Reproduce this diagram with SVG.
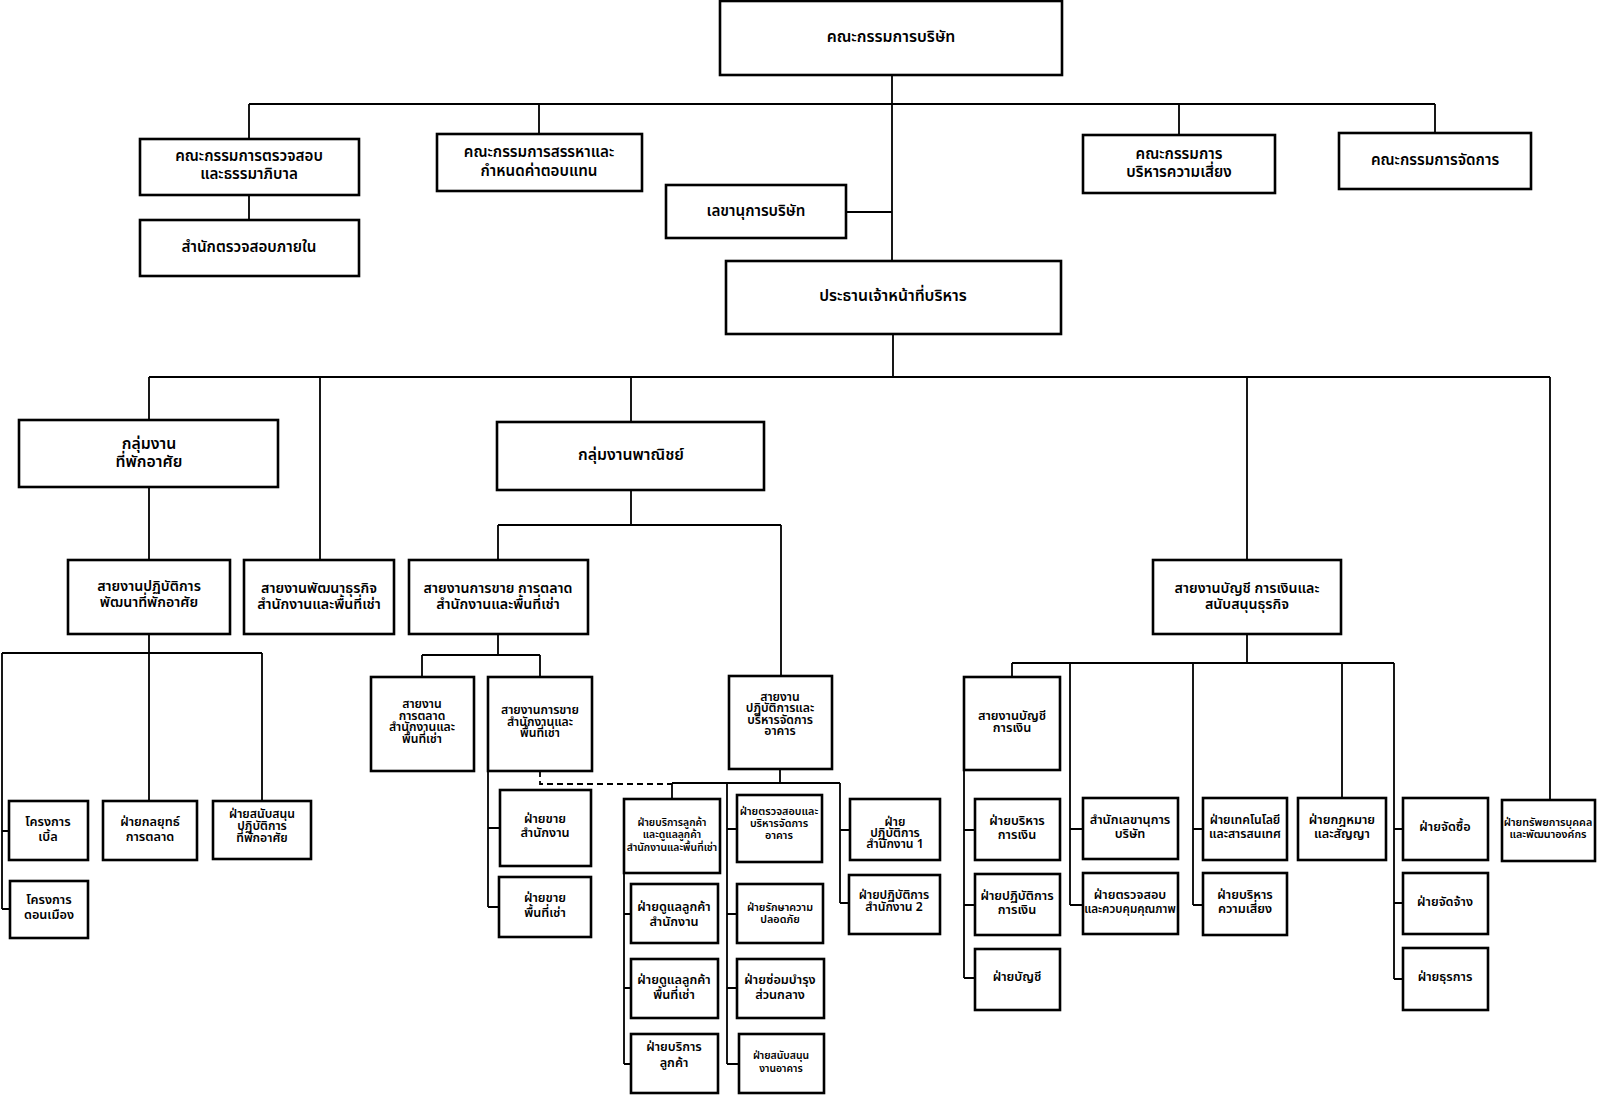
<svg xmlns="http://www.w3.org/2000/svg" width="1600" height="1096" viewBox="0 0 1600 1096">
<style>
.b{fill:#fff;stroke:#000;stroke-width:2.6}
.c{fill:none;stroke:#000;stroke-width:1.8}
.d{fill:none;stroke:#000;stroke-width:1.8;stroke-dasharray:6 4}
text{font-family:"Noto Sans Thai","Noto Sans","Liberation Sans",sans-serif;font-weight:600;text-anchor:middle;fill:#000}
.t16{font-size:15.8px}
.t15{font-size:15.2px}
.t14{font-size:14.2px}
.t13{font-size:12.7px}
.t12{font-size:12.2px}
.t11{font-size:11.6px}
.t10{font-size:10.4px}
.t10b{font-size:10.8px}
</style>
<rect width="1600" height="1096" fill="#fff"/>
<g id="connectors">
<path class="c" d="M892 75V261M249 104H1435M249 104V139M539 104V134M1179 104V135M1435 104V133M249 195V220M846 212H892"/>
<path class="c" d="M893 334V377M149 377H1550M149 377V420M320 377V560M631 377V422M1247 377V560M1550 377V800"/>
<path class="c" d="M149 487V560M149 634V801M2 653H262M262 653V801M2 653V909M2 831H9M2 909H10"/>
<path class="c" d="M631 490V525M498 525H781M498 525V560M781 525V676M498 634V655M422 655H540M422 655V677M540 655V677"/>
<path class="c" d="M488 771V907M488 828H500M488 907H499"/>
<path class="d" d="M540 771V784H672"/>
<path class="c" d="M780 769V783M672 783H840M672 783V799M727 783V1064M727 829H737M727 914H737M727 988H737M727 1064H739M624 873V1064M624 914H631M624 988H631M624 1064H631M840 783V903M840 830H850M840 903H849"/>
<path class="c" d="M1247 634V663M1012 663H1394M1012 663V677M964 770V978M964 830H975M964 905H975M964 978H975M1070 663V905M1070 829H1083M1070 905H1083M1193 663V905M1193 829H1203M1193 905H1203M1342 663V798M1394 663V979M1394 829H1403M1394 903H1403M1394 979H1403"/>
</g>
<g id="board"><rect class="b" x="720" y="1" width="342" height="74"/><text class="t16" x="891" y="42">คณะกรรมการบริษัท</text></g>
<g id="audit-committee"><rect class="b" x="140" y="139" width="219" height="56"/><text class="t15" x="249" y="161">คณะกรรมการตรวจสอบ</text><text class="t15" x="249" y="179">และธรรมาภิบาล</text></g>
<g id="internal-audit"><rect class="b" x="140" y="220" width="219" height="56"/><text class="t15" x="249" y="252">สำนักตรวจสอบภายใน</text></g>
<g id="nomination"><rect class="b" x="437" y="134" width="205" height="57"/><text class="t15" x="539" y="157">คณะกรรมการสรรหาและ</text><text class="t15" x="539" y="176">กำหนดค่าตอบแทน</text></g>
<g id="secretary"><rect class="b" x="666" y="185" width="180" height="53"/><text class="t15" x="756" y="216">เลขานุการบริษัท</text></g>
<g id="risk-committee"><rect class="b" x="1083" y="135" width="192" height="58"/><text class="t15" x="1179" y="159">คณะกรรมการ</text><text class="t15" x="1179" y="177">บริหารความเสี่ยง</text></g>
<g id="management-committee"><rect class="b" x="1339" y="133" width="192" height="56"/><text class="t15" x="1435" y="165">คณะกรรมการจัดการ</text></g>
<g id="ceo"><rect class="b" x="726" y="261" width="335" height="73"/><text class="t16" x="893" y="301">ประธานเจ้าหน้าที่บริหาร</text></g>
<g id="residential-group"><rect class="b" x="19" y="420" width="259" height="67"/><text class="t16" x="149" y="449">กลุ่มงาน</text><text class="t16" x="149" y="467">ที่พักอาศัย</text></g>
<g id="commercial-group"><rect class="b" x="497" y="422" width="267" height="68"/><text class="t16" x="631" y="460">กลุ่มงานพาณิชย์</text></g>
<g id="residential-ops"><rect class="b" x="68" y="560" width="162" height="74"/><text class="t14" x="149" y="591">สายงานปฏิบัติการ</text><text class="t14" x="149" y="607">พัฒนาที่พักอาศัย</text></g>
<g id="bizdev"><rect class="b" x="244" y="560" width="150" height="74"/><text class="t14" x="319" y="593">สายงานพัฒนาธุรกิจ</text><text class="t14" x="319" y="609">สำนักงานและพื้นที่เช่า</text></g>
<g id="sales-marketing"><rect class="b" x="409" y="560" width="179" height="74"/><text class="t14" x="498" y="593">สายงานการขาย การตลาด</text><text class="t14" x="498" y="609">สำนักงานและพื้นที่เช่า</text></g>
<g id="accounting-line"><rect class="b" x="1153" y="560" width="188" height="74"/><text class="t14" x="1247" y="593">สายงานบัญชี การเงินและ</text><text class="t14" x="1247" y="609">สนับสนุนธุรกิจ</text></g>
<g id="project-bell"><rect class="b" x="9" y="801" width="79" height="59"/><text class="t13" x="48" y="826">โครงการ</text><text class="t13" x="48" y="841">เบิ้ล</text></g>
<g id="mkt-strategy"><rect class="b" x="103" y="801" width="94" height="59"/><text class="t13" x="150" y="826">ฝ่ายกลยุทธ์</text><text class="t13" x="150" y="841">การตลาด</text></g>
<g id="res-ops-support"><rect class="b" x="213" y="801" width="98" height="58"/><text class="t12" x="262" y="818">ฝ่ายสนับสนุน</text><text class="t12" x="262" y="830">ปฏิบัติการ</text><text class="t12" x="262" y="842">ที่พักอาศัย</text></g>
<g id="project-donmueang"><rect class="b" x="10" y="881" width="78" height="57"/><text class="t13" x="49" y="904">โครงการ</text><text class="t13" x="49" y="919">ดอนเมือง</text></g>
<g id="marketing-line"><rect class="b" x="371" y="677" width="103" height="94"/><text class="t12" x="422" y="708">สายงาน</text><text class="t12" x="422" y="720">การตลาด</text><text class="t12" x="422" y="731">สำนักงานและ</text><text class="t12" x="422" y="743">พื้นที่เช่า</text></g>
<g id="sales-line"><rect class="b" x="488" y="677" width="104" height="94"/><text class="t12" x="540" y="714">สายงานการขาย</text><text class="t12" x="540" y="726">สำนักงานและ</text><text class="t12" x="540" y="737">พื้นที่เช่า</text></g>
<g id="building-ops-line"><rect class="b" x="729" y="676" width="103" height="93"/><text class="t12" x="780" y="701">สายงาน</text><text class="t12" x="780" y="712">ปฏิบัติการและ</text><text class="t12" x="780" y="724">บริหารจัดการ</text><text class="t12" x="780" y="735">อาคาร</text></g>
<g id="office-sales"><rect class="b" x="500" y="790" width="91" height="76"/><text class="t13" x="545" y="823">ฝ่ายขาย</text><text class="t13" x="545" y="837">สำนักงาน</text></g>
<g id="rental-sales"><rect class="b" x="499" y="877" width="92" height="60"/><text class="t13" x="545" y="902">ฝ่ายขาย</text><text class="t13" x="545" y="917">พื้นที่เช่า</text></g>
<g id="customer-service-care"><rect class="b" x="624" y="799" width="96" height="74"/><text class="t10" x="672" y="826">ฝ่ายบริการลูกค้า</text><text class="t10" x="672" y="838">และดูแลลูกค้า</text><text class="t10" x="672" y="851">สำนักงานและพื้นที่เช่า</text></g>
<g id="office-care"><rect class="b" x="631" y="884" width="87" height="59"/><text class="t13" x="674" y="911">ฝ่ายดูแลลูกค้า</text><text class="t13" x="674" y="926">สำนักงาน</text></g>
<g id="rental-care"><rect class="b" x="631" y="959" width="87" height="59"/><text class="t13" x="674" y="984">ฝ่ายดูแลลูกค้า</text><text class="t13" x="674" y="999">พื้นที่เช่า</text></g>
<g id="customer-service"><rect class="b" x="631" y="1034" width="87" height="59"/><text class="t13" x="674" y="1051">ฝ่ายบริการ</text><text class="t13" x="674" y="1067">ลูกค้า</text></g>
<g id="building-inspection"><rect class="b" x="737" y="795" width="85" height="67"/><text class="t10b" x="779" y="815">ฝ่ายตรวจสอบและ</text><text class="t10b" x="779" y="827">บริหารจัดการ</text><text class="t10b" x="779" y="839">อาคาร</text></g>
<g id="security"><rect class="b" x="737" y="884" width="86" height="59"/><text class="t10b" x="780" y="911">ฝ่ายรักษาความ</text><text class="t10b" x="780" y="923">ปลอดภัย</text></g>
<g id="maintenance"><rect class="b" x="737" y="959" width="87" height="59"/><text class="t13" x="780" y="984">ฝ่ายซ่อมบำรุง</text><text class="t13" x="780" y="999">ส่วนกลาง</text></g>
<g id="building-support"><rect class="b" x="739" y="1034" width="85" height="59"/><text class="t10" x="781" y="1059">ฝ่ายสนับสนุน</text><text class="t10" x="781" y="1072">งานอาคาร</text></g>
<g id="office-ops-1"><rect class="b" x="850" y="799" width="90" height="61"/><text class="t12" x="895" y="826">ฝ่าย</text><text class="t12" x="895" y="837">ปฏิบัติการ</text><text class="t12" x="895" y="848">สำนักงาน 1</text></g>
<g id="office-ops-2"><rect class="b" x="849" y="875" width="91" height="59"/><text class="t12" x="894" y="899">ฝ่ายปฏิบัติการ</text><text class="t12" x="894" y="911">สำนักงาน 2</text></g>
<g id="accounting-finance-line"><rect class="b" x="964" y="677" width="96" height="93"/><text class="t13" x="1012" y="720">สายงานบัญชี</text><text class="t13" x="1012" y="732">การเงิน</text></g>
<g id="finance-mgmt"><rect class="b" x="975" y="799" width="85" height="61"/><text class="t13" x="1017" y="825">ฝ่ายบริหาร</text><text class="t13" x="1017" y="839">การเงิน</text></g>
<g id="finance-ops"><rect class="b" x="975" y="874" width="85" height="61"/><text class="t13" x="1017" y="900">ฝ่ายปฏิบัติการ</text><text class="t13" x="1017" y="914">การเงิน</text></g>
<g id="accounting"><rect class="b" x="975" y="949" width="85" height="61"/><text class="t13" x="1017" y="981">ฝ่ายบัญชี</text></g>
<g id="corp-secretary-office"><rect class="b" x="1083" y="798" width="95" height="61"/><text class="t13" x="1130" y="824">สำนักเลขานุการ</text><text class="t13" x="1130" y="838">บริษัท</text></g>
<g id="quality-control"><rect class="b" x="1083" y="873" width="95" height="61"/><text class="t13" x="1130" y="899">ฝ่ายตรวจสอบ</text><text class="t11" x="1130" y="913">และควบคุมคุณภาพ</text></g>
<g id="it"><rect class="b" x="1203" y="798" width="84" height="62"/><text class="t12" x="1245" y="824">ฝ่ายเทคโนโลยี</text><text class="t12" x="1245" y="838">และสารสนเทศ</text></g>
<g id="risk-mgmt"><rect class="b" x="1203" y="873" width="84" height="62"/><text class="t13" x="1245" y="899">ฝ่ายบริหาร</text><text class="t13" x="1245" y="913">ความเสี่ยง</text></g>
<g id="legal"><rect class="b" x="1298" y="798" width="88" height="62"/><text class="t13" x="1342" y="824">ฝ่ายกฎหมาย</text><text class="t13" x="1342" y="838">และสัญญา</text></g>
<g id="procurement"><rect class="b" x="1403" y="798" width="85" height="62"/><text class="t13" x="1445" y="831">ฝ่ายจัดซื้อ</text></g>
<g id="hiring"><rect class="b" x="1403" y="873" width="85" height="61"/><text class="t13" x="1445" y="906">ฝ่ายจัดจ้าง</text></g>
<g id="admin"><rect class="b" x="1403" y="948" width="85" height="62"/><text class="t13" x="1445" y="981">ฝ่ายธุรการ</text></g>
<g id="hr"><rect class="b" x="1502" y="800" width="93" height="61"/><text class="t10b" x="1548" y="826">ฝ่ายทรัพยการบุคคล</text><text class="t10b" x="1548" y="838">และพัฒนาองค์กร</text></g>
</svg>
